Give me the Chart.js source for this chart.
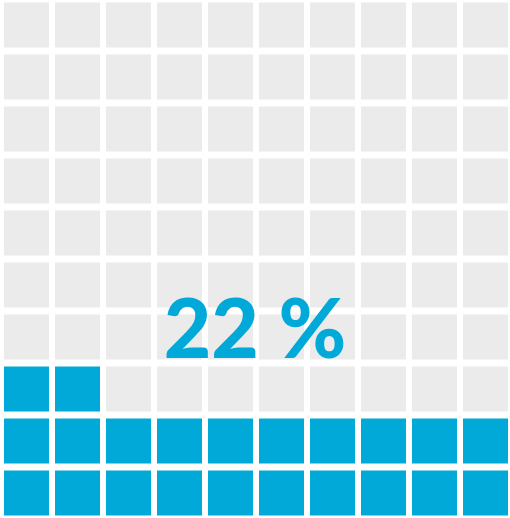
<!DOCTYPE html>
<html>
<head>
<meta charset="utf-8">
<script src="https://cdn.jsdelivr.net/npm/chart.js@4"></script>
<style>
  html, body { margin: 0; padding: 0; background: #fff; overflow: hidden; }
  body { width: 510px; height: 518px; position: relative; }
  #wrap { position: absolute; left: 1px; top: -1px; width: 510px; height: 520px; }
  #label {
    position: absolute; left: 0; width: 510px; top: 281px;
    text-align: center; font-family: Lato, sans-serif; font-weight: 900;
    font-size: 82px; line-height: 90px; color: #00a9d8;
  }
</style>
</head>
<body>
<div id="wrap"><canvas id="waffle"></canvas></div>
<div id="label"></div>
<script>
// waffle data
const share = [22];              // percent filled
const columns = ['1','2','3','4','5','6','7','8','9','10'];
const rows = [0,1,2,3,4,5,6,7,8,9]; // counted from the bottom
const filledColor = '#00a9d8';
const emptyColor = '#ebebeb';

const gap = 0.0673; // half the vertical gap, in row units

const datasets = rows.map(r => ({
    data: columns.map(() => [r + gap, r + 1 - gap]),
    backgroundColor: columns.map((c, i) => (r * columns.length + i) < share[0] ? filledColor : emptyColor),
    borderWidth: 0
}));

new Chart(document.getElementById('waffle'), {
    type: 'bar',
    data: { labels: columns, datasets: datasets },
    options: {
        responsive: true,
        maintainAspectRatio: false,
        animation: false,
        layout: { padding: 0 },
        grouped: false,
        categoryPercentage: 1,
        barPercentage: 45 / 51,
        plugins: { legend: { display: false }, tooltip: { enabled: false } },
        events: [],
        scales: {
            x: { display: false },
            y: { display: false, min: 0, max: rows.length }
        }
    }
});

document.getElementById('label').textContent = share[0] + ' %';
</script>
</body>
</html>
